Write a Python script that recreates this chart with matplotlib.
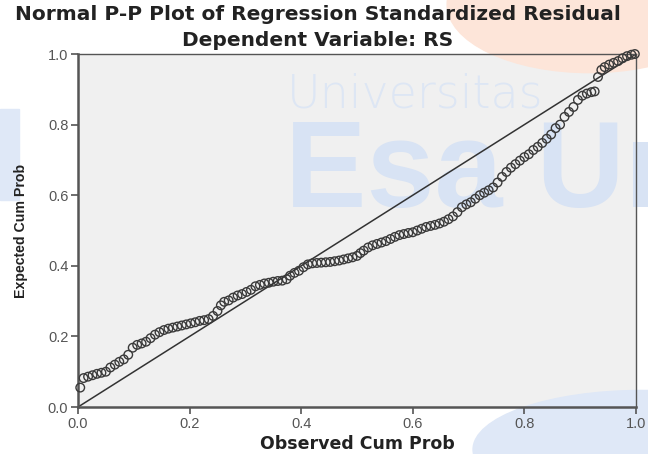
import matplotlib.pyplot as plt
from matplotlib.patches import Ellipse, Rectangle

# observed cumulative probability (x) and expected cumulative probability (y)
observed = [0.004, 0.010, 0.018, 0.026, 0.034, 0.042, 0.050, 0.058, 0.066, 0.074,
            0.082, 0.090, 0.098, 0.106, 0.114, 0.122, 0.130, 0.138, 0.146, 0.154,
            0.162, 0.170, 0.178, 0.186, 0.194, 0.202, 0.210, 0.218, 0.226, 0.234,
            0.242, 0.250, 0.256, 0.262, 0.270, 0.278, 0.286, 0.294, 0.302, 0.310,
            0.318, 0.326, 0.334, 0.342, 0.350, 0.358, 0.366, 0.374, 0.380, 0.388,
            0.396, 0.404, 0.412, 0.420, 0.428, 0.436, 0.444, 0.452, 0.460, 0.468,
            0.476, 0.484, 0.492, 0.500, 0.506, 0.512, 0.520, 0.528, 0.536, 0.544,
            0.552, 0.560, 0.568, 0.576, 0.584, 0.592, 0.600, 0.608, 0.616, 0.624,
            0.632, 0.640, 0.648, 0.656, 0.664, 0.672, 0.680, 0.688, 0.696, 0.704,
            0.712, 0.720, 0.728, 0.736, 0.744, 0.752, 0.760, 0.768, 0.776, 0.784,
            0.792, 0.800, 0.808, 0.816, 0.824, 0.832, 0.840, 0.848, 0.856, 0.864,
            0.872, 0.880, 0.888, 0.896, 0.904, 0.912, 0.920, 0.926, 0.932, 0.938,
            0.944, 0.952, 0.960, 0.968, 0.976, 0.984, 0.992, 0.998]
expected = [0.055, 0.082, 0.086, 0.090, 0.094, 0.097, 0.100, 0.112, 0.120, 0.128,
            0.135, 0.148, 0.168, 0.176, 0.180, 0.185, 0.195, 0.205, 0.212, 0.218,
            0.222, 0.225, 0.228, 0.231, 0.234, 0.237, 0.240, 0.244, 0.246, 0.249,
            0.258, 0.272, 0.288, 0.298, 0.302, 0.310, 0.316, 0.320, 0.326, 0.332,
            0.342, 0.346, 0.350, 0.352, 0.355, 0.357, 0.358, 0.362, 0.372, 0.380,
            0.386, 0.396, 0.404, 0.407, 0.408, 0.409, 0.410, 0.411, 0.413, 0.415,
            0.418, 0.421, 0.424, 0.428, 0.436, 0.443, 0.452, 0.458, 0.462, 0.466,
            0.470, 0.476, 0.482, 0.487, 0.490, 0.493, 0.495, 0.500, 0.505, 0.510,
            0.513, 0.516, 0.520, 0.525, 0.532, 0.540, 0.552, 0.566, 0.574, 0.580,
            0.590, 0.600, 0.607, 0.614, 0.622, 0.636, 0.652, 0.666, 0.678, 0.688,
            0.698, 0.708, 0.716, 0.728, 0.737, 0.748, 0.760, 0.772, 0.790, 0.800,
            0.822, 0.836, 0.850, 0.870, 0.882, 0.888, 0.892, 0.894, 0.935, 0.955,
            0.963, 0.970, 0.975, 0.980, 0.988, 0.994, 0.998, 1.000]
ticks = [0.0, 0.2, 0.4, 0.6, 0.8, 1.0]
tick_labels = ['0.0', '0.2', '0.4', '0.6', '0.8', '1.0']

plt.rcParams['font.family'] = ['Liberation Sans', 'DejaVu Sans']

fig = plt.figure(figsize=(6.48, 4.54), dpi=100)
ax = fig.add_axes([0.1204, 0.1035, 0.861, 0.7775])
ax.set_facecolor('#f0f0f0')

# watermark of the source document
wm = dict(transform=fig.transFigure, clip_on=False, zorder=0.5)
ax.add_patch(Ellipse((0.91, 0.99), 0.44, 0.30, color='#fde5d9', **wm))
ax.add_patch(Ellipse((0.99, 0.01), 0.52, 0.26, color='#dfe8f7', **wm))
ax.add_patch(Rectangle((0.0, 0.56), 0.03, 0.20, color='#dfe8f7', **wm))
ax.text(0.443, 0.764, 'Universitas', fontsize=33, color='#dde6f4',
        family='DejaVu Sans', fontweight='light', ha='left', va='baseline', **wm)
ax.text(0.44, 0.544, 'Esa Unggul', fontsize=88, color='#d8e3f4',
        fontweight='bold', ha='left', va='baseline', **wm)

ax.plot([0, 1], [0, 1], color='#333333', linewidth=1.1, zorder=2)
ax.scatter(observed, expected, s=38, facecolors='none', edgecolors='#3a3a3a',
           linewidths=1.0, zorder=3, clip_on=False)

ax.set_xlim(0, 1)
ax.set_ylim(0, 1)
ax.set_xticks(ticks, tick_labels)
ax.set_yticks(ticks, tick_labels)
ax.tick_params(direction='out', length=5, width=1.2, colors='#555555',
               labelsize=10.5, pad=2)
for side in ['left', 'bottom', 'top', 'right']:
    ax.spines[side].set_color('#555555')
ax.spines['left'].set_linewidth(1.8)
ax.spines['bottom'].set_linewidth(1.8)
ax.spines['top'].set_linewidth(1.0)
ax.spines['right'].set_linewidth(1.0)

ax.set_xlabel('Observed Cum Prob', fontsize=12.5, fontweight='bold',
              family='DejaVu Sans', color='#222222', labelpad=3)
ax.set_ylabel('Expected Cum Prob', fontsize=10.2, fontweight='bold',
              color='#222222', labelpad=14)

fig.text(0.49, 0.968, 'Normal P-P Plot of Regression Standardized Residual',
         ha='center', va='center', fontsize=14.5, fontweight='bold',
         family='DejaVu Sans', color='#222222')
fig.text(0.49, 0.911, 'Dependent Variable: RS',
         ha='center', va='center', fontsize=14.5, fontweight='bold',
         family='DejaVu Sans', color='#222222')

fig.savefig('out.png', dpi=100)
